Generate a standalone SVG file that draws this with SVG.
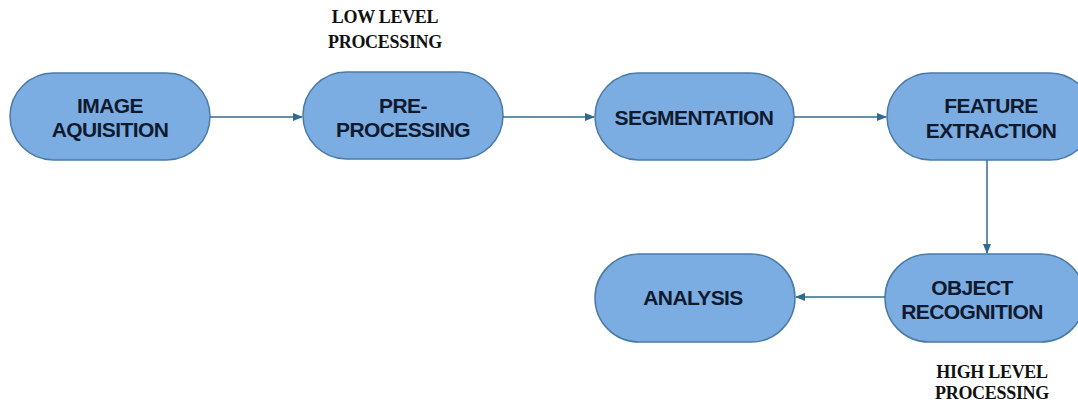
<svg xmlns="http://www.w3.org/2000/svg" width="1078" height="404" viewBox="0 0 1078 404">
<defs>
<marker id="ah" markerWidth="10" markerHeight="8" refX="9" refY="4" orient="auto" markerUnits="userSpaceOnUse">
<path d="M0,0 L10,4 L0,8 z" fill="#2f6b8f"/>
</marker>
<style>
.node rect{fill:#7badE2;stroke:#4a7aa6;stroke-width:1.5}
.node text{font-family:"Liberation Sans",Arial,sans-serif;font-weight:bold;font-size:21px;letter-spacing:-0.6px;fill:#101a2e;text-anchor:middle}
.lbl{font-family:"Liberation Serif","Times New Roman",serif;font-weight:bold;font-size:18px;letter-spacing:-0.3px;fill:#111;text-anchor:middle}
.conn line{stroke:#2f6b8f;stroke-width:1.5;marker-end:url(#ah)}
</style>
</defs>
<rect width="1078" height="404" fill="#fff"/>
<text class="lbl" x="385" y="23">LOW LEVEL</text>
<text class="lbl" x="385" y="48">PROCESSING</text>
<text class="lbl" x="992" y="378">HIGH LEVEL</text>
<text class="lbl" x="992" y="399">PROCESSING</text>
<g id="n1" class="node"><rect x="10" y="73" width="200" height="87" rx="43.5"/><text x="110" y="113">IMAGE</text><text x="110" y="137">AQUISITION</text></g>
<g id="n2" class="node"><rect x="303" y="72" width="200" height="87" rx="43.5"/><text x="403" y="113">PRE-</text><text x="403" y="137">PROCESSING</text></g>
<g id="n3" class="node"><rect x="595" y="73" width="199" height="87" rx="43.5"/><text x="694" y="125">SEGMENTATION</text></g>
<g id="n4" class="node"><rect x="887" y="73" width="206" height="87" rx="43.5"/><text x="991" y="113">FEATURE</text><text x="991" y="138">EXTRACTION</text></g>
<g id="n5" class="node"><rect x="885" y="254" width="200" height="88" rx="44"/><text x="972" y="295">OBJECT</text><text x="972" y="319">RECOGNITION</text></g>
<g id="n6" class="node"><rect x="595" y="254" width="200" height="88" rx="44"/><text x="693" y="305">ANALYSIS</text></g>
<g id="connectors" class="conn">
<line x1="210" y1="117" x2="302" y2="117"/>
<line x1="503" y1="117" x2="594" y2="117"/>
<line x1="794" y1="117" x2="886" y2="117"/>
<line x1="987" y1="160" x2="987" y2="253"/>
<line x1="885" y1="297" x2="796" y2="297"/>
</g>
</svg>
